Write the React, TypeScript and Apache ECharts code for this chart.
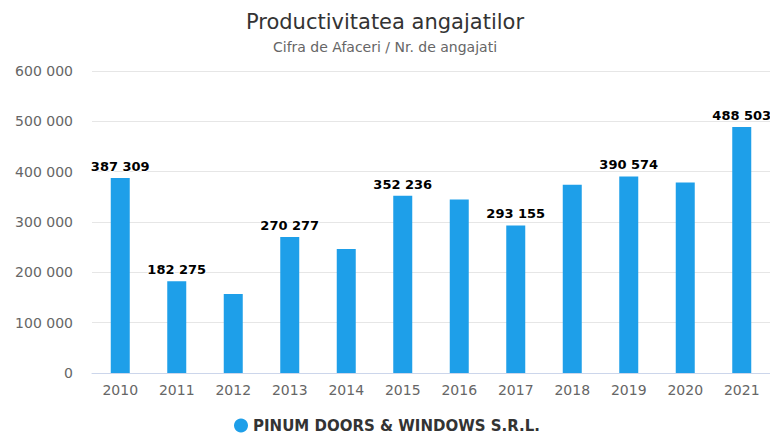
import React, { useEffect, useRef } from "react";
import * as echarts from "echarts";

const years = ["2010", "2011", "2012", "2013", "2014", "2015", "2016", "2017", "2018", "2019", "2020", "2021"];
const values = [387309, 182275, 157000, 270277, 246500, 352236, 344500, 293155, 373800, 390574, 378300, 488503];
const labelledYears = ["2010", "2011", "2013", "2015", "2017", "2019", "2021"];
const yTicks = [0, 100000, 200000, 300000, 400000, 500000, 600000];
const seriesName = "PINUM DOORS & WINDOWS S.R.L.";

const fmt = (v: number) => String(Math.round(v)).replace(/\B(?=(\d{3})+(?!\d))/g, " ");

export default function App() {
  const ref = useRef<HTMLDivElement>(null);
  useEffect(() => {
    if (!ref.current) return;
    const chart = echarts.init(ref.current, undefined, { renderer: "svg" });
    const font = "'DejaVu Sans', Verdana, sans-serif";
    chart.setOption({
      animation: false,
      textStyle: { fontFamily: font },
      title: {
        text: "Productivitatea angajatilor",
        subtext: "Cifra de Afaceri / Nr. de angajati",
        left: "center",
        top: 6,
        itemGap: 8,
        textStyle: { fontFamily: font, fontSize: 21, fontWeight: "normal", color: "#333333" },
        subtextStyle: { fontFamily: font, fontSize: 14, color: "#666666" },
      },
      legend: {
        top: 418,
        left: 234,
        padding: 0,
        icon: "circle",
        itemWidth: 14,
        itemHeight: 14,
        itemGap: 20,
        textStyle: { fontFamily: font, fontSize: 15, fontWeight: "bold", color: "#333333" },
        data: [seriesName],
      },
      grid: { left: 92, top: 71, width: 679, height: 302 },
      xAxis: {
        type: "category",
        data: years,
        axisLine: { lineStyle: { color: "#ccd6eb" } },
        axisTick: { show: false },
        axisLabel: { fontFamily: font, fontSize: 14, color: "#666666", margin: 10 },
      },
      yAxis: {
        type: "value",
        min: yTicks[0],
        max: yTicks[yTicks.length - 1],
        interval: 100000,
        axisLine: { show: false },
        axisTick: { show: false },
        splitLine: { lineStyle: { color: "#e6e6e6" } },
        axisLabel: {
          fontFamily: font,
          fontSize: 14,
          color: "#666666",
          margin: 19,
          formatter: (v: number) => fmt(v),
        },
      },
      series: [
        {
          name: seriesName,
          type: "bar",
          barWidth: 19,
          itemStyle: { color: "#1e9fe9" },
          data: values.map((v, i) => ({
            value: v,
            label: { show: labelledYears.includes(years[i]) },
          })),
          label: {
            position: "top",
            distance: 5,
            fontFamily: font,
            fontSize: 13,
            fontWeight: "bold",
            color: "#000000",
            textBorderColor: "#ffffff",
            textBorderWidth: 2,
            formatter: (p: any) => fmt(p.value),
          },
        },
      ],
    });
    return () => chart.dispose();
  }, []);
  return <div ref={ref} style={{ width: 770, height: 434, position: "absolute", left: 0, top: 0 }} />;
}
